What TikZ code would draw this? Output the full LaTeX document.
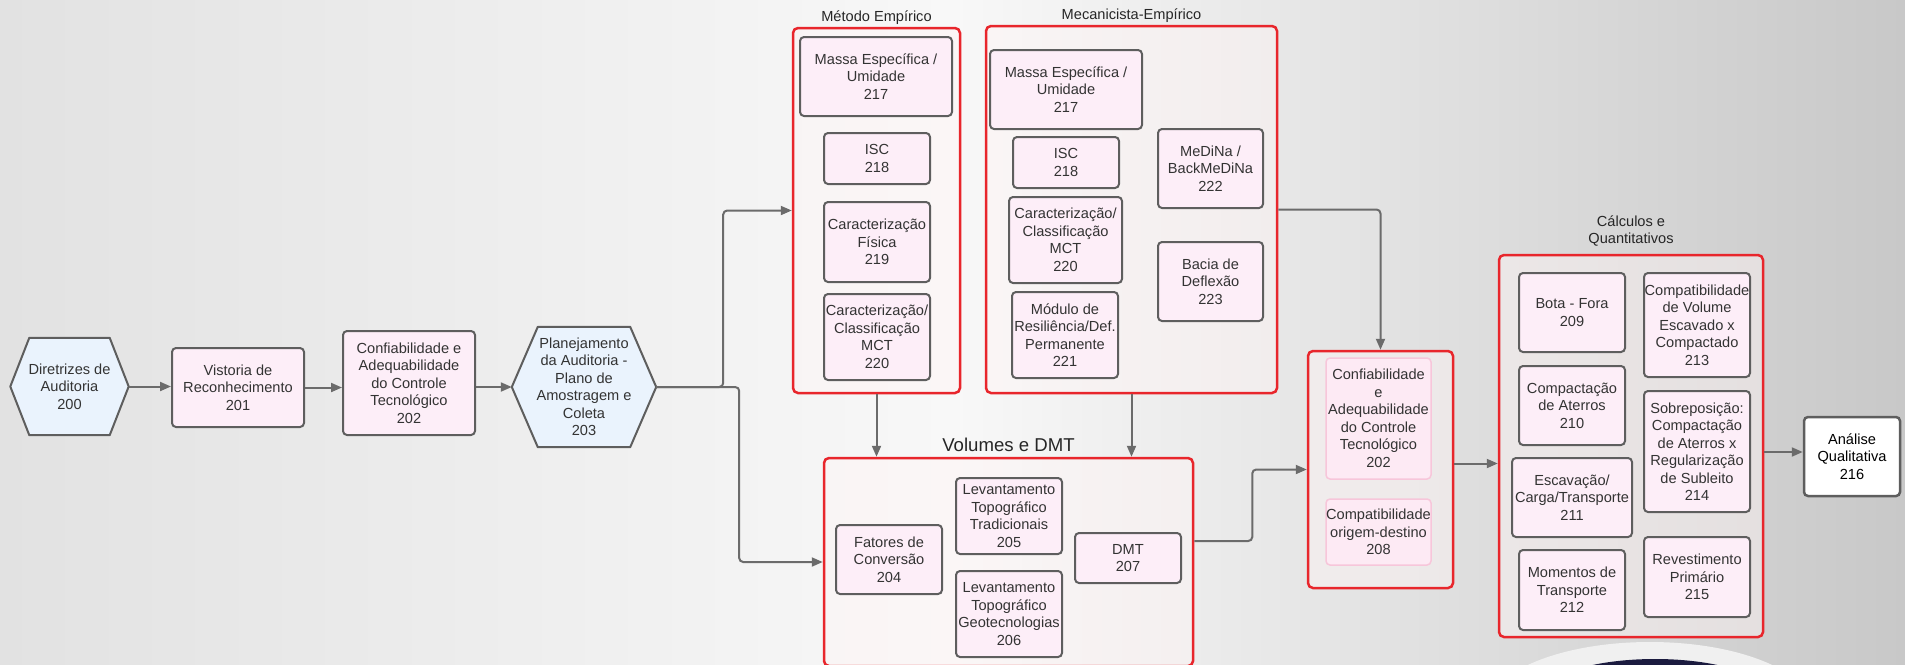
\documentclass[tikz,border=0pt]{standalone}
\usepackage{fontspec}
\setmainfont{Liberation Sans}
\usetikzlibrary{arrows.meta,calc,backgrounds}

\definecolor{boxpink}{HTML}{FDEEF8}
\definecolor{boxline}{HTML}{5E5E5E}
\definecolor{hexblue}{HTML}{EAF3FD}
\definecolor{groupred}{HTML}{E8262C}
\definecolor{linkgray}{HTML}{6B6B6B}
\definecolor{textgray}{HTML}{333333}
\definecolor{softpink}{HTML}{F7C6DA}
\definecolor{softfill}{HTML}{FDEAF4}
\definecolor{bgleft}{HTML}{E2E2E2}
\definecolor{bgmid}{HTML}{F8F8F8}
\definecolor{bgright}{HTML}{C8C8C8}
\definecolor{lensnavy}{HTML}{1B1B3F}

\tikzset{
    txt/.style={font=\fontsize{14.6}{17.5}\selectfont, text=textgray, align=center, inner sep=0pt},
    caixa/.style={txt, draw=boxline, fill=boxpink, line width=2pt, rounded corners=4pt},
    caixaclara/.style={txt, draw=softpink, fill=softfill, line width=1.5pt, rounded corners=4pt},
    hexline/.style={draw=boxline, fill=hexblue, line width=2pt, line join=round},
    grupo/.style={draw=groupred, line width=2.5pt, rounded corners=5pt, fill=red!4!white, fill opacity=0.45},
    titulo/.style={font=\fontsize{14.6}{17.5}\selectfont, text=black!85, align=center, inner sep=2pt, above},
    seta/.style={draw=linkgray, line width=2pt, rounded corners=4pt, -{Triangle[length=11pt,width=9pt]}},
}

% hexagon round a node: name, inset of the corners
\newcommand{\hexagono}[2]{%
  \draw[hexline] (#1.west) -- ($(#1.north west)+(#2,0)$) -- ($(#1.north east)+(-#2,0)$)
    -- (#1.east) -- ($(#1.south east)+(-#2,0)$) -- ($(#1.south west)+(#2,0)$) -- cycle;}

\begin{document}
\begin{tikzpicture}[x=1pt, y=-1pt]
    \useasboundingbox (0,0) rectangle (1905,664);

    % fluxo principal
    \node[txt, minimum width=118pt, minimum height=97pt] (h200) at (69.5,386.5) {Diretrizes de\\Auditoria\\200};
    \node[caixa, minimum width=132pt, minimum height=79pt] (b201) at (238,387.5) {Vistoria de\\Reconhecimento\\201};
    \node[caixa, minimum width=132pt, minimum height=104pt] (b202) at (409,383) {Confiabilidade e\\Adequabilidade\\do Controle\\Tecnológico\\202};
    \node[txt, minimum width=144pt, minimum height=120pt] (h203) at (584,387) {Planejamento\\da Auditoria -\\Plano de\\Amostragem e\\Coleta\\203};

    % grupos
    \node[grupo, minimum width=167pt, minimum height=365pt] (met) at (876.5,210.5) {};
    \node[grupo, minimum width=291pt, minimum height=367pt] (mec) at (1131.5,209.5) {};
    \node[grupo, minimum width=369pt, minimum height=208pt] (vol) at (1008.5,562) {};
    \node[grupo, minimum width=145pt, minimum height=237pt] (conf) at (1380.5,469.5) {};
    \node[grupo, minimum width=264pt, minimum height=382pt] (calc) at (1631,446) {};

    \node[titulo] (tmet) at (met.north) {Método Empírico};
    \node[titulo] (tmec) at (mec.north) {Mecanicista-Empírico};
    \node[titulo, inner sep=5pt, font=\fontsize{18.6}{22}\selectfont] (tvol) at (vol.north) {Volumes e DMT};
    \node[titulo, inner sep=7pt] (tcalc) at (calc.north) {Cálculos e\\Quantitativos};

    % Método Empírico
    \node[caixa, minimum width=152pt, minimum height=79pt] (m217) at (876,76.5) {Massa Específica /\\Umidade\\217};
    \node[caixa, minimum width=106pt, minimum height=51pt] (m218) at (877,158.5) {ISC\\218};
    \node[caixa, minimum width=106pt, minimum height=80pt] (m219) at (877,242) {Caracterização\\Física\\219};
    \node[caixa, minimum width=106pt, minimum height=86pt] (m220) at (877,337) {Caracterização/\\Classificação\\MCT\\220};

    % Mecanicista-Empírico
    \node[caixa, minimum width=152pt, minimum height=79pt] (e217) at (1066,89.5) {Massa Específica /\\Umidade\\217};
    \node[caixa, minimum width=106pt, minimum height=51pt] (e218) at (1066,162.5) {ISC\\218};
    \node[caixa, minimum width=113pt, minimum height=86pt] (e220) at (1065.5,240) {Caracterização/\\Classificação\\MCT\\220};
    \node[caixa, minimum width=106pt, minimum height=86pt] (e221) at (1065,335) {Módulo de\\Resiliência/Def.\\Permanente\\221};
    \node[caixa, minimum width=105pt, minimum height=79pt] (e222) at (1210.5,168.5) {MeDiNa /\\BackMeDiNa\\222};
    \node[caixa, minimum width=105pt, minimum height=79pt] (e223) at (1210.5,281.5) {Bacia de\\Deflexão\\223};

    % Volumes e DMT
    \node[caixa, minimum width=106pt, minimum height=69pt] (v204) at (889,559.5) {Fatores de\\Conversão\\204};
    \node[caixa, minimum width=106pt, minimum height=76pt] (v205) at (1009,516) {Levantamento\\Topográfico\\Tradicionais\\205};
    \node[caixa, minimum width=106pt, minimum height=86pt] (v206) at (1009,614) {Levantamento\\Topográfico\\Geotecnologias\\206};
    \node[caixa, minimum width=106pt, minimum height=50pt] (v207) at (1128,558) {DMT\\207};

    % Confiabilidade
    \node[caixaclara, minimum width=105pt, minimum height=121pt] (c202) at (1378.5,418.5) {Confiabilidade\\e\\Adequabilidade\\do Controle\\Tecnológico\\202};
    \node[caixaclara, minimum width=105pt, minimum height=66pt] (c208) at (1378.5,532) {Compatibilidade\\origem-destino\\208};

    % Cálculos e Quantitativos
    \node[caixa, minimum width=106pt, minimum height=79pt] (q209) at (1572,312.5) {Bota - Fora\\209};
    \node[caixa, minimum width=106pt, minimum height=79pt] (q210) at (1572,405.5) {Compactação\\de Aterros\\210};
    \node[caixa, minimum width=120pt, minimum height=79pt] (q211) at (1572,497.5) {Escavação/\\Carga/Transporte\\211};
    \node[caixa, minimum width=106pt, minimum height=80pt] (q212) at (1572,590) {Momentos de\\Transporte\\212};
    \node[caixa, minimum width=106pt, minimum height=104pt] (q213) at (1697,325) {Compatibilidade\\de Volume\\Escavado x\\Compactado\\213};
    \node[caixa, minimum width=106pt, minimum height=121pt] (q214) at (1697,451.5) {Sobreposição:\\Compactação\\de Aterros x\\Regularização\\de Subleito\\214};
    \node[caixa, minimum width=106pt, minimum height=80pt] (q215) at (1697,577) {Revestimento\\Primário\\215};

    \node[caixa, fill=white, text=black, line width=2.5pt, minimum width=96pt, minimum height=79pt] (a216) at (1852,456.5) {Análise\\Qualitativa\\216};

    % ligações
    \draw[seta] (h200.east) -- (h200.east -| b201.west);
    \draw[seta] (b201.east) -- (b201.east -| b202.west);
    \draw[seta] (b202.east |- h203.west) -- (h203.west);
    \draw[seta] (h203.east) -- ++(67,0) |- (met.west);
    \draw[seta] (h203.east) -- ++(83,0) |- (vol.west);
    \draw[seta] (met.south) -- (met.south |- vol.north);
    \draw[seta] (mec.south) -- (mec.south |- vol.north);
    \draw[seta] (mec.east) -| (conf.north);
    \draw[seta] ([yshift=21pt]vol.east) -- ++(58,0) |- (conf.west);
    \draw[seta] ([yshift=6pt]conf.east) -- ([yshift=6pt]conf.east -| calc.west);
    \draw[seta] ([yshift=-6pt]calc.east) -- ([yshift=-6pt]calc.east -| a216.west);

    \begin{pgfonlayer}{background}
      \shade[left color=bgleft, right color=bgright, middle color=bgmid] (0,0) rectangle (1905,664);
      \fill[white!94!black] (1650,710) ellipse [x radius=163pt, y radius=68pt];
      \fill[lensnavy] (1655,700) ellipse [x radius=120pt, y radius=41pt];
      \hexagono{h200}{19}
      \hexagono{h203}{26}
    \end{pgfonlayer}
\end{tikzpicture}
\end{document}
